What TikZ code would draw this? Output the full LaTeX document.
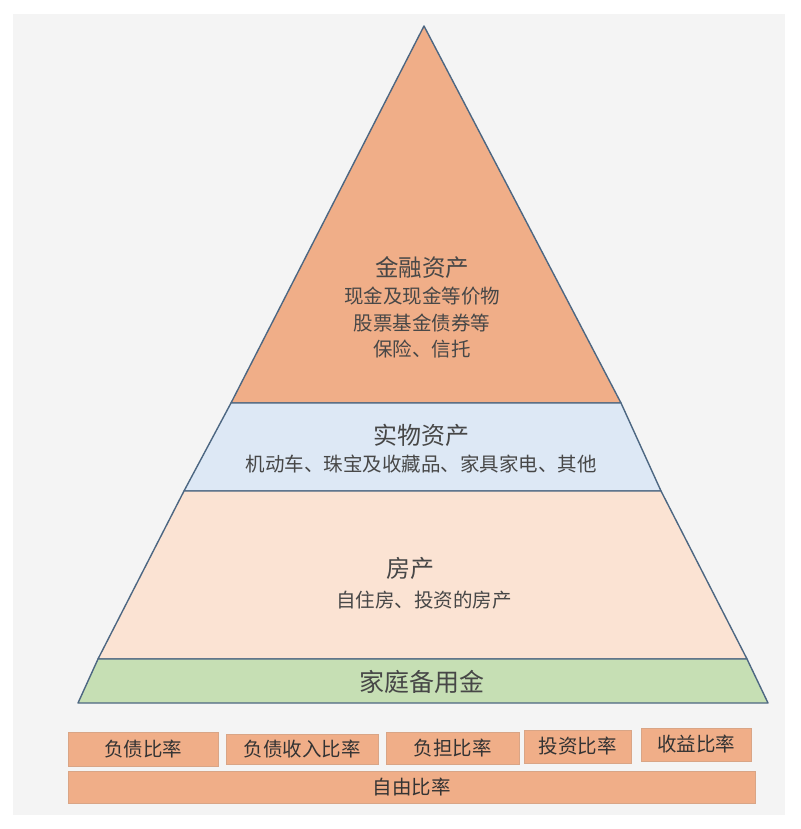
\documentclass[tikz,border=0pt]{standalone}
\usepackage{fontspec}
\setmainfont{Noto Sans CJK SC}
\usetikzlibrary{positioning}

\definecolor{bggray}{HTML}{F4F4F4}
\definecolor{edge}{HTML}{4D6782}
\definecolor{finorange}{HTML}{F0AE88}
\definecolor{realblue}{HTML}{DDE8F5}
\definecolor{housepeach}{HTML}{FBE3D3}
\definecolor{reservegreen}{HTML}{C6DFB4}
\definecolor{txtgray}{HTML}{474747}

\begin{document}
\begin{tikzpicture}[
    x=1pt, y=-1pt,
    layer/.style={draw=edge, line width=1.4pt, line join=round},
    title/.style={inner sep=0pt, text=txtgray, font=\fontsize{23.5}{28}\selectfont},
    info/.style={inner sep=0pt, text=txtgray, align=center, font=\fontsize{19.5}{26.5}\selectfont},
    ratio/.style={fill=finorange, draw=finorange!80!gray, line width=0.6pt, inner sep=0pt,
        text=black!80, font=\fontsize{19.5}{23}\selectfont}
]

% canvas
\fill[white] (0,0) rectangle (800,829);
\fill[bggray] (13,14) rectangle (785,815);

% pyramid layers
\coordinate (apex) at (424,26);
\coordinate (fl) at (231,403);
\coordinate (fr) at (621,403);
\coordinate (rl) at (184,491);
\coordinate (rr) at (661,491);
\coordinate (hl) at (98,659);
\coordinate (hr) at (747,659);
\coordinate (gl) at (78,703);
\coordinate (gr) at (768,703);

\draw[layer, fill=finorange] (apex) -- (fr) -- (fl) -- cycle;
\draw[layer, fill=realblue] (fl) -- (fr) -- (rr) -- (rl) -- cycle;
\draw[layer, fill=housepeach] (rl) -- (rr) -- (hr) -- (hl) -- cycle;
\draw[layer, fill=reservegreen] (hl) -- (hr) -- (gr) -- (gl) -- cycle;

% layer texts
\node[title] (fin) at (422,268) {金融资产};
\node[info, below=8pt of fin] (fininfo) {现金及现金等价物\\股票基金债券等\\保险、信托};

\node[title, font=\fontsize{24}{28}\selectfont] (real) at (421,435) {实物资产};
\node[info, below=8pt of real] (realinfo) {机动车、珠宝及收藏品、家具家电、其他};

\node[title, font=\fontsize{24}{28}\selectfont] (house) at (410,568) {房产};
\node[info, below=11pt of house, xshift=14pt] (houseinfo) {自住房、投资的房产};

\node[title, font=\fontsize{25}{28}\selectfont] (reserve) at (422,682) {家庭备用金};

% ratio boxes
\node[ratio, minimum width=150pt, minimum height=34pt] (debt) at (143,749) {负债比率};
\node[ratio, minimum width=152pt, minimum height=30pt] (debtinc) at (302,749) {负债收入比率};
\node[ratio, minimum width=133pt, minimum height=32pt] (burden) at (452.5,748) {负担比率};
\node[ratio, minimum width=107pt, minimum height=33pt] (invest) at (577.5,746.5) {投资比率};
\node[ratio, minimum width=110pt, minimum height=33pt] (income) at (696,744.5) {收益比率};
\node[ratio, minimum width=687pt, minimum height=32pt] (free) at (411.5,787) {自由比率};

\end{tikzpicture}
\end{document}
